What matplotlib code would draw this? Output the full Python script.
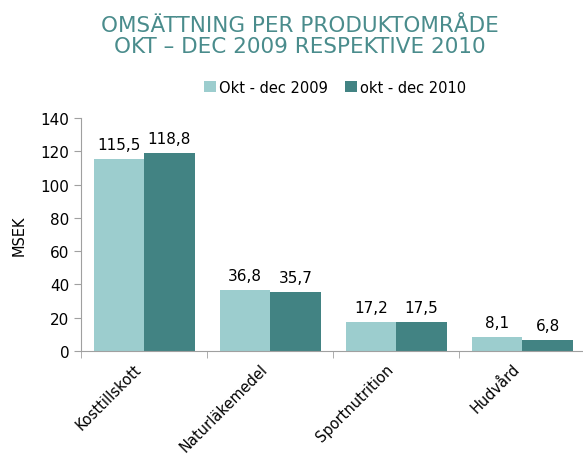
import numpy as np
import matplotlib.pyplot as plt

categories = ['Kosttillskott', 'Naturläkemedel', 'Sportnutrition', 'Hudvård']
okt_2009 = [115.5, 36.8, 17.2, 8.1]
okt_2010 = [118.8, 35.7, 17.5, 6.8]
series_names = ['Okt - dec 2009', 'okt - dec 2010']

LIGHT = '#9ccdce'
DARK = '#428383'
TEAL_TXT = '#4a8c8c'

plt.rcParams['font.family'] = ['DejaVu Sans']

fig = plt.figure(figsize=(5.83, 4.6), dpi=100)
ax = fig.add_axes([0.139, 0.235, 0.865, 0.506])

x = np.arange(len(categories))
w = 0.4
b1 = ax.bar(x - w / 2, okt_2009, w, color=LIGHT, label=series_names[0])
b2 = ax.bar(x + w / 2, okt_2010, w, color=DARK, label=series_names[1])

for bars, vals in ((b1, okt_2009), (b2, okt_2010)):
    for r, v in zip(bars, vals):
        ax.annotate(f'{v:.1f}'.replace('.', ','),
                    (r.get_x() + r.get_width() / 2, v),
                    xytext=(0, 5), textcoords='offset points',
                    ha='center', va='bottom', fontsize=11)

ax.set_xlim(-0.5, len(categories) - 0.5)
ax.set_ylim(0, 140)
ax.set_yticks(range(0, 141, 20))
ax.set_ylabel('MSEK', fontsize=10.5, labelpad=10)

ax.set_xticks(x - 0.08)
ax.set_xticklabels(categories, rotation=45, ha='right', rotation_mode='anchor',
                   fontsize=10.5)
ax.tick_params(axis='x', length=0, pad=7)
ax.set_xticks(np.arange(-0.5, len(categories), 1), minor=True)
ax.tick_params(axis='x', which='minor', length=5, color='#a0a0a0')
ax.tick_params(axis='y', length=5, color='#a0a0a0', labelsize=11)

for s in ('top', 'right'):
    ax.spines[s].set_visible(False)
for s in ('left', 'bottom'):
    ax.spines[s].set_color('#a0a0a0')

fig.text(0.515, 0.92, 'OMSÄTTNING PER PRODUKTOMRÅDE\nOKT – DEC 2009 RESPEKTIVE 2010',
         ha='center', va='center', fontsize=15.5, color=TEAL_TXT, linespacing=1.05)

fig.legend(loc='center', bbox_to_anchor=(0.575, 0.808), ncol=2, frameon=False,
           fontsize=10.5, handlelength=0.8, handleheight=0.8, handletextpad=0.2,
           columnspacing=1.2)

fig.savefig('out.png', dpi=100)
